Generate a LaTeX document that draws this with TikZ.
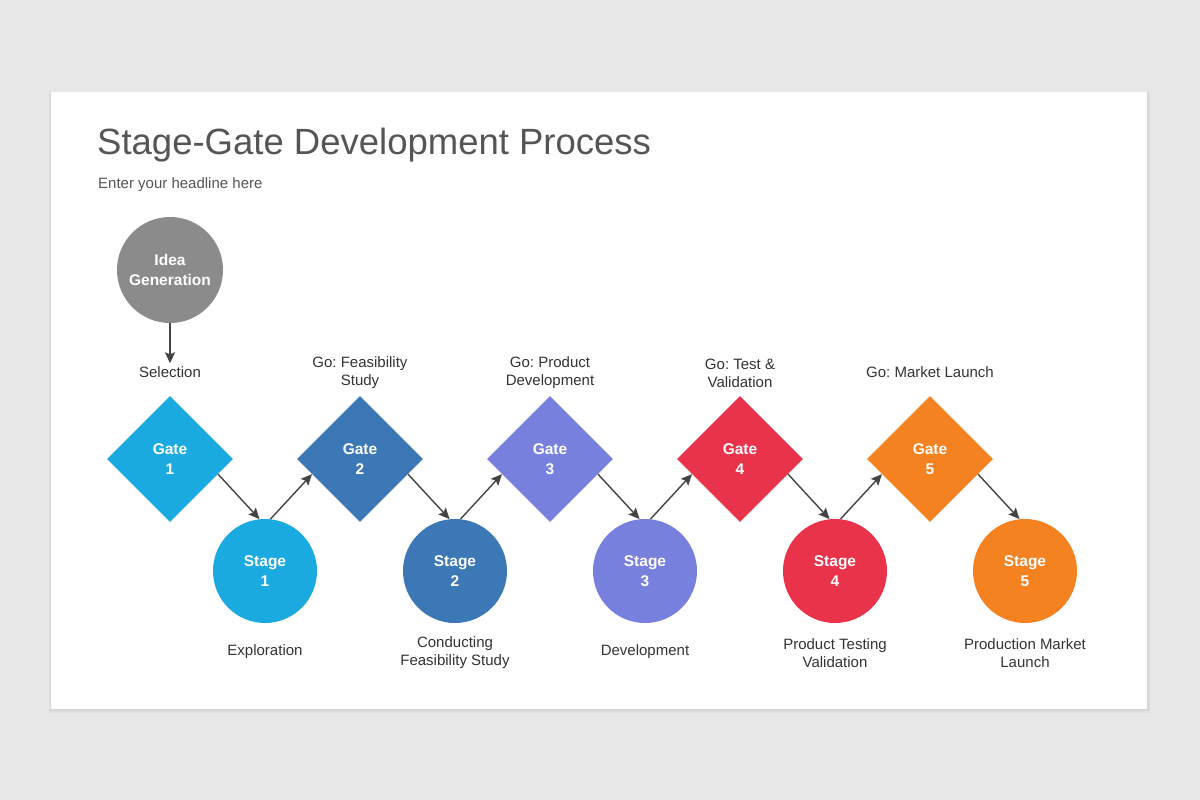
\documentclass[tikz,border=0pt]{standalone}
\usepackage{fontspec}
\setmainfont{Liberation Sans}
\usetikzlibrary{shapes.geometric,calc,arrows.meta}
\definecolor{bgc}{HTML}{E8E7E8}
\definecolor{c1}{HTML}{1AAADF}
\definecolor{c2}{HTML}{3B78B5}
\definecolor{c3}{HTML}{7780DD}
\definecolor{c4}{HTML}{E8334A}
\definecolor{c5}{HTML}{F58220}
\definecolor{ideac}{HTML}{8B8B8B}
\definecolor{txt}{HTML}{333333}
\definecolor{ttl}{HTML}{555555}
\definecolor{arr}{HTML}{444444}
\frenchspacing
\tikzset{
  gatebox/.style={diamond, aspect=1, minimum width=126pt, minimum height=126pt, inner sep=0pt,
    text=white, align=center, font=\bfseries\fontsize{15.5}{20}\selectfont},
  stagebox/.style={circle, minimum size=104pt, inner sep=0pt, text=white, align=center,
    font=\bfseries\fontsize{15.5}{20}\selectfont},
  lbl/.style={text=txt, align=center, font=\fontsize{15}{18}\selectfont, inner sep=0pt},
  conn/.style={draw=arr, line width=1.4pt, -{Stealth[length=11pt,width=10pt,inset=2pt]}}
}
\begin{document}
\begin{tikzpicture}[x=1pt,y=-1pt]
\useasboundingbox (0,0) rectangle (1200,800);
\fill[bgc] (0,0) rectangle (1200,800);
% shadow
\fill[black,opacity=0.03] (49,92) rectangle (1150,713);
\fill[black,opacity=0.04] (50,93) rectangle (1149,711);
\fill[white] (51,92) rectangle (1147,709);
% title
\node[anchor=base west, inner sep=0pt, text=ttl, font=\fontsize{36.5}{40}\selectfont] (title) at (97,154) {Stage-Gate Development Process};
\node[anchor=base west, inner sep=0pt, text=ttl, font=\fontsize{15}{17}\selectfont] (sub) at (98,188) {Enter your headline here};
% idea
\node[circle, fill=ideac, minimum size=106pt, inner sep=0pt, text=white, align=center,
  font=\bfseries\fontsize{15.5}{20}\selectfont] (idea) at (170,270) {Idea\\Generation};
\node[lbl, inner ysep=3pt] (sel) at (170,372) {Selection};
\draw[conn] (idea.south) -- (sel.north);
% gates
\node[gatebox, fill=c1] (g1) at (170,459) {Gate\\1};
\node[gatebox, fill=c2] (g2) at (360,459) {Gate\\2};
\node[gatebox, fill=c3] (g3) at (550,459) {Gate\\3};
\node[gatebox, fill=c4] (g4) at (740,459) {Gate\\4};
\node[gatebox, fill=c5] (g5) at (930,459) {Gate\\5};
% stages
\node[stagebox, fill=c1] (s1) at (265,571) {Stage\\1};
\node[stagebox, fill=c2] (s2) at (455,571) {Stage\\2};
\node[stagebox, fill=c3] (s3) at (645,571) {Stage\\3};
\node[stagebox, fill=c4] (s4) at (835,571) {Stage\\4};
\node[stagebox, fill=c5] (s5) at (1025,571) {Stage\\5};
% labels above
\node[lbl] (l2) at (360,373) {Go: Feasibility\\Study};
\node[lbl] (l3) at (550,373) {Go: Product\\Development};
\node[lbl] (l4) at (740,373) {Go: Test \&\\Validation};
\node[lbl] (l5) at (930,372) {Go: Market Launch};
% labels below
\node[lbl] (b1) at (265,652) {Exploration};
\node[lbl] (b2) at (455,653) {Conducting\\Feasibility Study};
\node[lbl] (b3) at (645,652) {Development};
\node[lbl] (b4) at (835,653) {Product Testing\\Validation};
\node[lbl] (b5) at (1025,653) {Production Market\\Launch};
% connectors
\foreach \g/\s in {g1/s1,g2/s2,g3/s3,g4/s4,g5/s5}{
  \draw[conn] ($(\g.east)!0.24!(\g.south)$) -- (\s.96);
}
\foreach \s/\g in {s1/g2,s2/g3,s3/g4,s4/g5}{
  \draw[conn] (\s.84) -- ($(\g.west)!0.24!(\g.south)$);
}
\end{tikzpicture}
\end{document}
